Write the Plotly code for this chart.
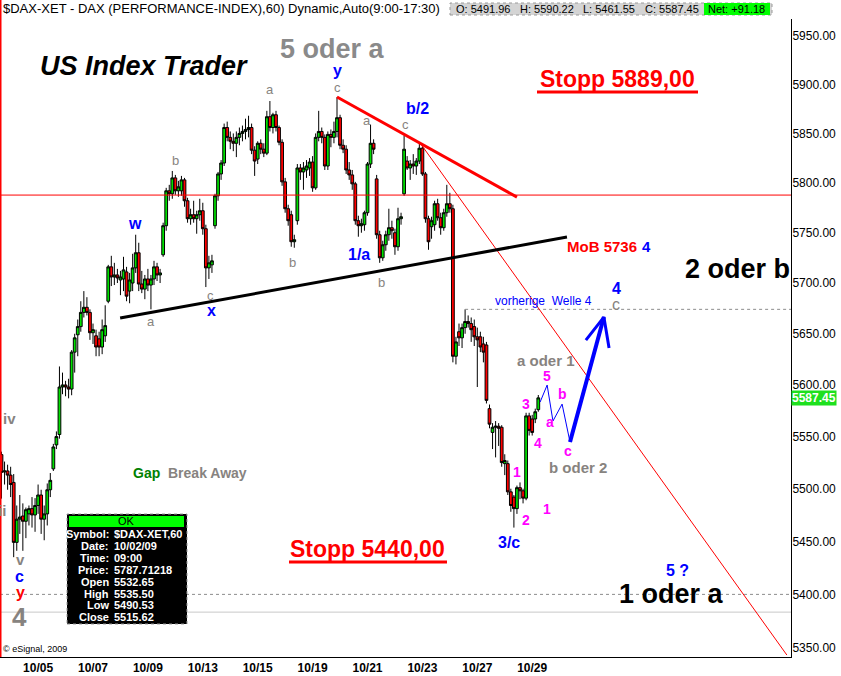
"""
DAX hourly chart with Elliott wave annotations (eSignal style).
"""

import math

import plotly.graph_objects as go

# ---- data -----------------------------------------------------------------

day_labels = [
    "10/02", "10/05", "10/06", "10/07", "10/08", "10/09", "10/12", "10/13",
    "10/14", "10/15", "10/16", "10/19", "10/20", "10/21", "10/22", "10/23",
    "10/26", "10/27", "10/28", "10/29",
]

opens = [
    5532.65, 5516, 5517, 5513, 5506, 5449, 5471, 5474, 5469, 5476,
    5481, 5475, 5484, 5494, 5471, 5476, 5499, 5519, 5542, 5552,
    5598, 5600, 5598, 5596, 5632, 5649, 5657, 5671, 5676, 5671,
    5651, 5648, 5645, 5637, 5648, 5682, 5716, 5706, 5708, 5703,
    5704, 5711, 5692, 5700, 5715, 5730, 5699, 5694, 5704, 5698,
    5704, 5716, 5708, 5728, 5757, 5792, 5789, 5805, 5792, 5792,
    5803, 5782, 5764, 5768, 5764, 5768, 5772, 5754, 5715, 5718,
    5757, 5787, 5809, 5820, 5856, 5846, 5842, 5840, 5846, 5850,
    5852, 5854, 5856, 5833, 5824, 5840, 5834, 5830, 5867, 5856,
    5869, 5856, 5841, 5801, 5774, 5768, 5741, 5762, 5815, 5811,
    5813, 5815, 5821, 5795, 5846, 5852, 5846, 5817, 5849, 5846,
    5852, 5866, 5838, 5834, 5813, 5808, 5799, 5762, 5757, 5758,
    5770, 5819, 5840, 5804, 5748, 5725, 5738, 5748, 5755, 5750,
    5736, 5764, 5789, 5822, 5815, 5819, 5817, 5822, 5835, 5809,
    5764, 5756, 5758, 5779, 5765, 5755, 5770, 5779, 5774, 5628,
    5652, 5646, 5656, 5662, 5660, 5657, 5647, 5647, 5640, 5639,
    5577, 5554, 5559, 5560, 5559, 5524, 5524, 5497, 5492, 5481,
    5501, 5498, 5491, 5570, 5567, 5567, 5576,
]
highs = [
    5535.50, 5526, 5523, 5521, 5514, 5484, 5494, 5486, 5482, 5484,
    5492, 5491, 5504, 5499, 5484, 5505, 5515, 5543, 5555, 5618,
    5612, 5604, 5606, 5634, 5650, 5664, 5682, 5692, 5686, 5674,
    5660, 5654, 5652, 5664, 5678, 5718, 5727, 5720, 5714, 5712,
    5726, 5716, 5710, 5729, 5748, 5740, 5712, 5708, 5714, 5708,
    5722, 5720, 5714, 5760, 5795, 5798, 5812, 5808, 5802, 5807,
    5805, 5785, 5774, 5782, 5772, 5784, 5780, 5758, 5727, 5728,
    5789, 5811, 5823, 5860, 5862, 5852, 5850, 5852, 5856, 5858,
    5865, 5868, 5860, 5837, 5842, 5844, 5840, 5873, 5883, 5871,
    5873, 5858, 5844, 5805, 5778, 5772, 5748, 5819, 5819, 5821,
    5823, 5825, 5827, 5850, 5873, 5856, 5849, 5852, 5854, 5862,
    5887, 5869, 5844, 5838, 5821, 5813, 5801, 5767, 5764, 5772,
    5821, 5859, 5844, 5808, 5752, 5742, 5752, 5774, 5762, 5754,
    5775, 5770, 5848, 5827, 5823, 5829, 5825, 5840, 5837, 5811,
    5767, 5766, 5782, 5784, 5770, 5774, 5798, 5790, 5778, 5647,
    5660, 5660, 5674, 5668, 5666, 5664, 5656, 5652, 5647, 5642,
    5581, 5563, 5565, 5563, 5561, 5533, 5527, 5500, 5494, 5503,
    5506, 5500, 5573, 5573, 5571, 5577, 5590.22,
]
lows = [
    5490.53, 5504, 5499, 5492, 5435, 5441, 5457, 5441, 5453, 5465,
    5463, 5459, 5476, 5457, 5451, 5465, 5492, 5517, 5538, 5548,
    5591, 5589, 5587, 5590, 5612, 5628, 5652, 5666, 5668, 5644,
    5640, 5628, 5628, 5630, 5642, 5680, 5697, 5698, 5700, 5688,
    5692, 5682, 5680, 5692, 5710, 5692, 5690, 5684, 5692, 5674,
    5698, 5702, 5700, 5726, 5752, 5782, 5784, 5788, 5786, 5787,
    5776, 5760, 5758, 5760, 5749, 5762, 5748, 5696, 5704, 5710,
    5754, 5782, 5803, 5817, 5842, 5834, 5832, 5826, 5838, 5842,
    5844, 5846, 5829, 5807, 5819, 5829, 5826, 5828, 5852, 5850,
    5852, 5838, 5797, 5770, 5757, 5736, 5735, 5758, 5803, 5793,
    5805, 5807, 5791, 5793, 5842, 5840, 5813, 5813, 5836, 5840,
    5846, 5834, 5830, 5809, 5803, 5793, 5758, 5746, 5750, 5752,
    5767, 5815, 5829, 5744, 5720, 5722, 5732, 5742, 5744, 5728,
    5732, 5758, 5787, 5813, 5803, 5809, 5808, 5819, 5807, 5760,
    5733, 5744, 5752, 5762, 5748, 5752, 5766, 5770, 5622, 5620,
    5638, 5636, 5650, 5656, 5642, 5638, 5598, 5632, 5622, 5582,
    5558, 5538, 5530, 5541, 5521, 5513, 5494, 5478, 5463, 5476,
    5490, 5486, 5489, 5551, 5551, 5563, 5574,
]
closes = [
    5515.62, 5517, 5513, 5504, 5449, 5471, 5473, 5469, 5480, 5481,
    5475, 5484, 5494, 5471, 5476, 5499, 5508, 5540, 5550, 5598,
    5600, 5598, 5596, 5632, 5646, 5657, 5671, 5676, 5671, 5651,
    5654, 5637, 5637, 5654, 5658, 5716, 5706, 5708, 5705, 5706,
    5713, 5687, 5703, 5715, 5730, 5699, 5694, 5704, 5698, 5704,
    5716, 5708, 5710, 5757, 5792, 5789, 5805, 5792, 5796, 5803,
    5782, 5764, 5768, 5764, 5768, 5772, 5754, 5715, 5720, 5722,
    5787, 5809, 5820, 5856, 5846, 5842, 5840, 5846, 5850, 5852,
    5854, 5856, 5833, 5822, 5840, 5834, 5830, 5867, 5856, 5869,
    5856, 5841, 5801, 5774, 5762, 5741, 5743, 5815, 5811, 5815,
    5817, 5821, 5795, 5846, 5852, 5846, 5817, 5849, 5846, 5852,
    5866, 5838, 5834, 5813, 5808, 5799, 5762, 5757, 5759, 5770,
    5819, 5840, 5834, 5748, 5725, 5738, 5748, 5755, 5752, 5736,
    5764, 5766, 5834, 5815, 5819, 5817, 5822, 5835, 5809, 5764,
    5741, 5762, 5779, 5765, 5755, 5770, 5779, 5774, 5628, 5642,
    5646, 5656, 5662, 5660, 5654, 5647, 5644, 5637, 5632, 5585,
    5562, 5559, 5560, 5558, 5525, 5527, 5497, 5484, 5481, 5501,
    5498, 5491, 5570, 5556, 5554, 5574, 5587.45,
]

y_tick_values = [5350, 5400, 5450, 5500, 5550, 5600, 5650, 5700, 5750, 5800, 5850, 5900, 5950]

# drawn lines (bar index, price)
support_x, support_y = [38.9, 185.4], [5665.4, 5745.7]
resist_x, resist_y = [110.0, 169.0], [5887.1, 5785.7]
fan_x, fan_y = [137.5, 257.5], [5839.2, 5343.4]
wave_x = [176.6, 178.9, 180.8, 183.8, 186.4]
wave_y = [5583.4, 5599.9, 5565.0, 5581.4, 5544.7]
arrow_x, arrow_y = [186.4, 197.5], [5544.7, 5666.4]
arrowhead_x, arrowhead_y = [191.6, 197.5, 199.2], [5643.8, 5666.4, 5636.0]

cursor_price = 5787.71218
prev_wave4_start = 152
prev_wave4_price = 5674.0
level_dotted = 5400.0
level_solid = 5383.4

header_ohlc = [("O:", "5491.96"), ("H:", "5590.22"), ("L:", "5461.55"), ("C:", "5587.45")]
net_change = "+91.18"

# ---- geometry ---------------------------------------------------------------

W, H = 841, 676
PLOT_R, PLOT_T, PLOT_B = 791, 19, 657
PLOT_H = PLOT_B - PLOT_T
BAR_PX = 3.05
X_LO = -1.5 / BAR_PX
X_HI = (PLOT_R - 1.5) / BAR_PX
Y_RANGE = [math.log10(5341.6), math.log10(5967.4)]
FONT = "Arial, Liberation Sans, sans-serif"

GRAY = "#878380"
BLUE = "#0000ff"
MAG = "#ff00ff"
RED = "#ff0000"


def px(x):
    return x / PLOT_R


def py(y):
    return (PLOT_B - y) / PLOT_H


n = len(closes)
bars = list(range(n))

fig = go.Figure()

fig.add_trace(
    go.Candlestick(
        x=bars, open=opens, high=highs, low=lows, close=closes,
        increasing=dict(line=dict(color="black", width=1), fillcolor="#00e000"),
        decreasing=dict(line=dict(color="black", width=1), fillcolor="#ff0000"),
        hoverinfo="skip", showlegend=False,
    )
)


def line_trace(xs, ys, color, width, dash="solid"):
    fig.add_trace(
        go.Scatter(
            x=xs, y=ys, mode="lines", showlegend=False, hoverinfo="skip",
            line=dict(color=color, width=width, dash=dash),
        )
    )


line_trace([X_LO, X_HI], [level_solid, level_solid], "#c8c8c8", 1)
line_trace([X_LO, X_HI], [level_dotted, level_dotted], "#8c8c8c", 1, "dot")
line_trace([prev_wave4_start, X_HI], [prev_wave4_price, prev_wave4_price], "#8c8c8c", 1, "dot")
line_trace([X_LO, X_HI], [cursor_price, cursor_price], RED, 1)
line_trace(fan_x, fan_y, RED, 1)
line_trace(support_x, support_y, "black", 3)
line_trace(resist_x, resist_y, RED, 3)
line_trace(wave_x, wave_y, BLUE, 1)
line_trace(arrow_x, arrow_y, BLUE, 4)
line_trace(arrowhead_x, arrowhead_y, BLUE, 3)

# ---- annotations -------------------------------------------------------------

annotations = []


def label(x, y, text, size=13, color=GRAY, bold=False, italic=False,
          xanchor="center", **kw):
    annotations.append(dict(
        x=px(x), y=py(y), xref="paper", yref="paper", text=text,
        showarrow=False, xanchor=xanchor, yanchor="middle",
        font=dict(family=FONT, size=size, color=color,
                  weight="bold" if bold else "normal",
                  style="italic" if italic else "normal"),
        **kw,
    ))


label(1, 8, "$DAX-XET - DAX (PERFORMANCE-INDEX),60) Dynamic,Auto(9:00-17:30)",
      size=13, color="black", xanchor="left")
for (tag, val), x0 in zip(header_ohlc, [454, 518, 581, 643]):
    label(x0, 9, f"{tag} {val}", size=11, color="black", xanchor="left")
label(706, 9, f"Net: {net_change}", size=11, color="black", xanchor="left")

label(144, 66, "US Index Trader", size=27, color="black", bold=True, italic=True)
label(332, 49, "5 oder a", size=27, color="#8a8a8a", bold=True)
label(737, 269, "2 oder b", size=27, color="black", bold=True)
label(671, 594, "1 oder a", size=27, color="black", bold=True)
label(617, 79, "Stopp 5889,00", size=23, color=RED, bold=True)
label(367, 549, "Stopp 5440,00", size=23, color=RED, bold=True)
label(602, 246, "MoB 5736", size=15, color=RED, bold=True)
label(646, 246, "4", size=15, color=BLUE, bold=True)
label(543, 301, "vorherige  Welle 4", size=12, color=BLUE)
label(616, 288, "4", size=16, color=BLUE, bold=True)
label(616, 304, "c", size=16, color=GRAY)
label(546, 360, "a oder 1", size=15, color=GRAY, bold=True)
label(578, 467, "b oder 2", size=15, color=GRAY, bold=True)
label(146, 473, "Gap", size=14, color="#008000", bold=True)
label(208, 473, "Break Away", size=14, color=GRAY, bold=True)

# wave counts
for x, y, t in [(337, 87, "c"), (270, 89, "a"), (175, 160, "b"), (210, 295, "c"),
                (151, 321, "a"), (292, 262, "b"), (367, 121, "a"), (381, 282, "b"),
                (405, 124, "c")]:
    label(x, y, t, size=13, color=GRAY)
for x, y, t in [(337, 71, "y"), (135, 223, "w"), (211, 310, "x"), (359, 254, "1/a"),
                (417, 108, "b/2"), (509, 542, "3/c"), (677, 570, "5 ?")]:
    label(x, y, t, size=16, color=BLUE, bold=True)
for x, y, t in [(547, 376, "5"), (526, 404, "3"), (562, 394, "b"), (550, 422, "a"),
                (538, 443, "4"), (568, 451, "c"), (517, 472, "1"), (547, 509, "1"),
                (526, 520, "2")]:
    label(x, y, t, size=14, color=MAG, bold=True)
label(9, 418, "iv", size=15, color=GRAY, bold=True)
label(2, 510, "ii", size=15, color=GRAY, bold=True)
label(20, 559, "v", size=15, color=GRAY, bold=True)
label(19, 576, "c", size=16, color=BLUE, bold=True)
label(20, 592, "y", size=16, color=RED, bold=True)
label(19, 617, "4", size=26, color=GRAY, bold=True)
label(1, 649, "\u00a9 eSignal, 2009", size=9, color="black", xanchor="left")

# cursor data window
tip_rows = [
    ("Symbol:", "$DAX-XET,60"), ("Date:", "10/02/09"), ("Time:", "09:00"),
    ("Price:", f"{cursor_price:.5f}"), ("Open", f"{opens[0]:.2f}"),
    ("High", f"{highs[0]:.2f}"), ("Low", f"{lows[0]:.2f}"), ("Close", f"{closes[0]:.2f}"),
]
label(126, 521, "OK", size=11, color="black")
for k, (name, val) in enumerate(tip_rows):
    yy = 534 + k * 11.9
    label(111, yy, name, size=11, color="white", bold=True, xanchor="right")
    label(112, yy, val, size=11, color="white", bold=True, xanchor="left")

# last price tag on the axis
label(791, 398, f"{closes[-1]:.2f}", size=12, color="white", bold=True,
      xanchor="left", bgcolor="#1ee01e", borderpad=0)

shapes = [
    dict(type="line", xref="paper", yref="paper", x0=px(0.5), x1=px(0.5),
         y0=py(PLOT_B), y1=py(0), line=dict(color=RED, width=2)),
    dict(type="rect", xref="paper", yref="paper", x0=px(450), x1=px(772),
         y0=py(15), y1=py(3), fillcolor="#d4d4d4", line=dict(color="#9a9a9a", width=1, dash="dot")),
    dict(type="rect", xref="paper", yref="paper", x0=px(704), x1=px(770),
         y0=py(15), y1=py(3), fillcolor="#00ff00", line=dict(width=0)),
    dict(type="line", xref="paper", yref="paper", x0=px(537), x1=px(698),
         y0=py(92), y1=py(92), line=dict(color=RED, width=3)),
    dict(type="line", xref="paper", yref="paper", x0=px(289), x1=px(447),
         y0=py(562), y1=py(562), line=dict(color=RED, width=3)),
    dict(type="rect", xref="paper", yref="paper", x0=px(67), x1=px(187),
         y0=py(624), y1=py(514), fillcolor="black", line=dict(color="#9a9a9a", width=1, dash="dot")),
    dict(type="rect", xref="paper", yref="paper", x0=px(69), x1=px(184),
         y0=py(527), y1=py(516), fillcolor="#00ff00", line=dict(width=0)),
]

tickvals = [i * 9 + 3 for i in range(1, len(day_labels), 2)]
ticktext = [day_labels[i] for i in range(1, len(day_labels), 2)]

fig.update_layout(
    width=W, height=H,
    margin=dict(l=0, r=W - PLOT_R, t=PLOT_T, b=H - PLOT_B),
    paper_bgcolor="white", plot_bgcolor="white",
    showlegend=False, boxgap=0.1, boxgroupgap=0,
    annotations=annotations, shapes=shapes,
    font=dict(family=FONT, color="black"),
)
fig.update_xaxes(
    range=[X_LO, X_HI], rangeslider=dict(visible=False),
    tickvals=tickvals, ticktext=ticktext, ticks="",
    tickfont=dict(family=FONT, size=12, color="black", weight="bold"),
    showgrid=False, zeroline=False, showline=True, linecolor="black", linewidth=1,
)
fig.update_yaxes(
    type="log", range=Y_RANGE, side="right",
    tickvals=y_tick_values, tickformat=".2f", ticks="", ticklabelstandoff=-2,
    tickfont=dict(family=FONT, size=12, color="black"),
    showgrid=False, zeroline=False, showline=True, linecolor="black", linewidth=1,
)

# the page is photographed edge to edge, so drop the browser's default body margin
fig.write_html(
    "out.html",
    config={"displayModeBar": False},
    post_script="document.body.style.margin='0';",
)
